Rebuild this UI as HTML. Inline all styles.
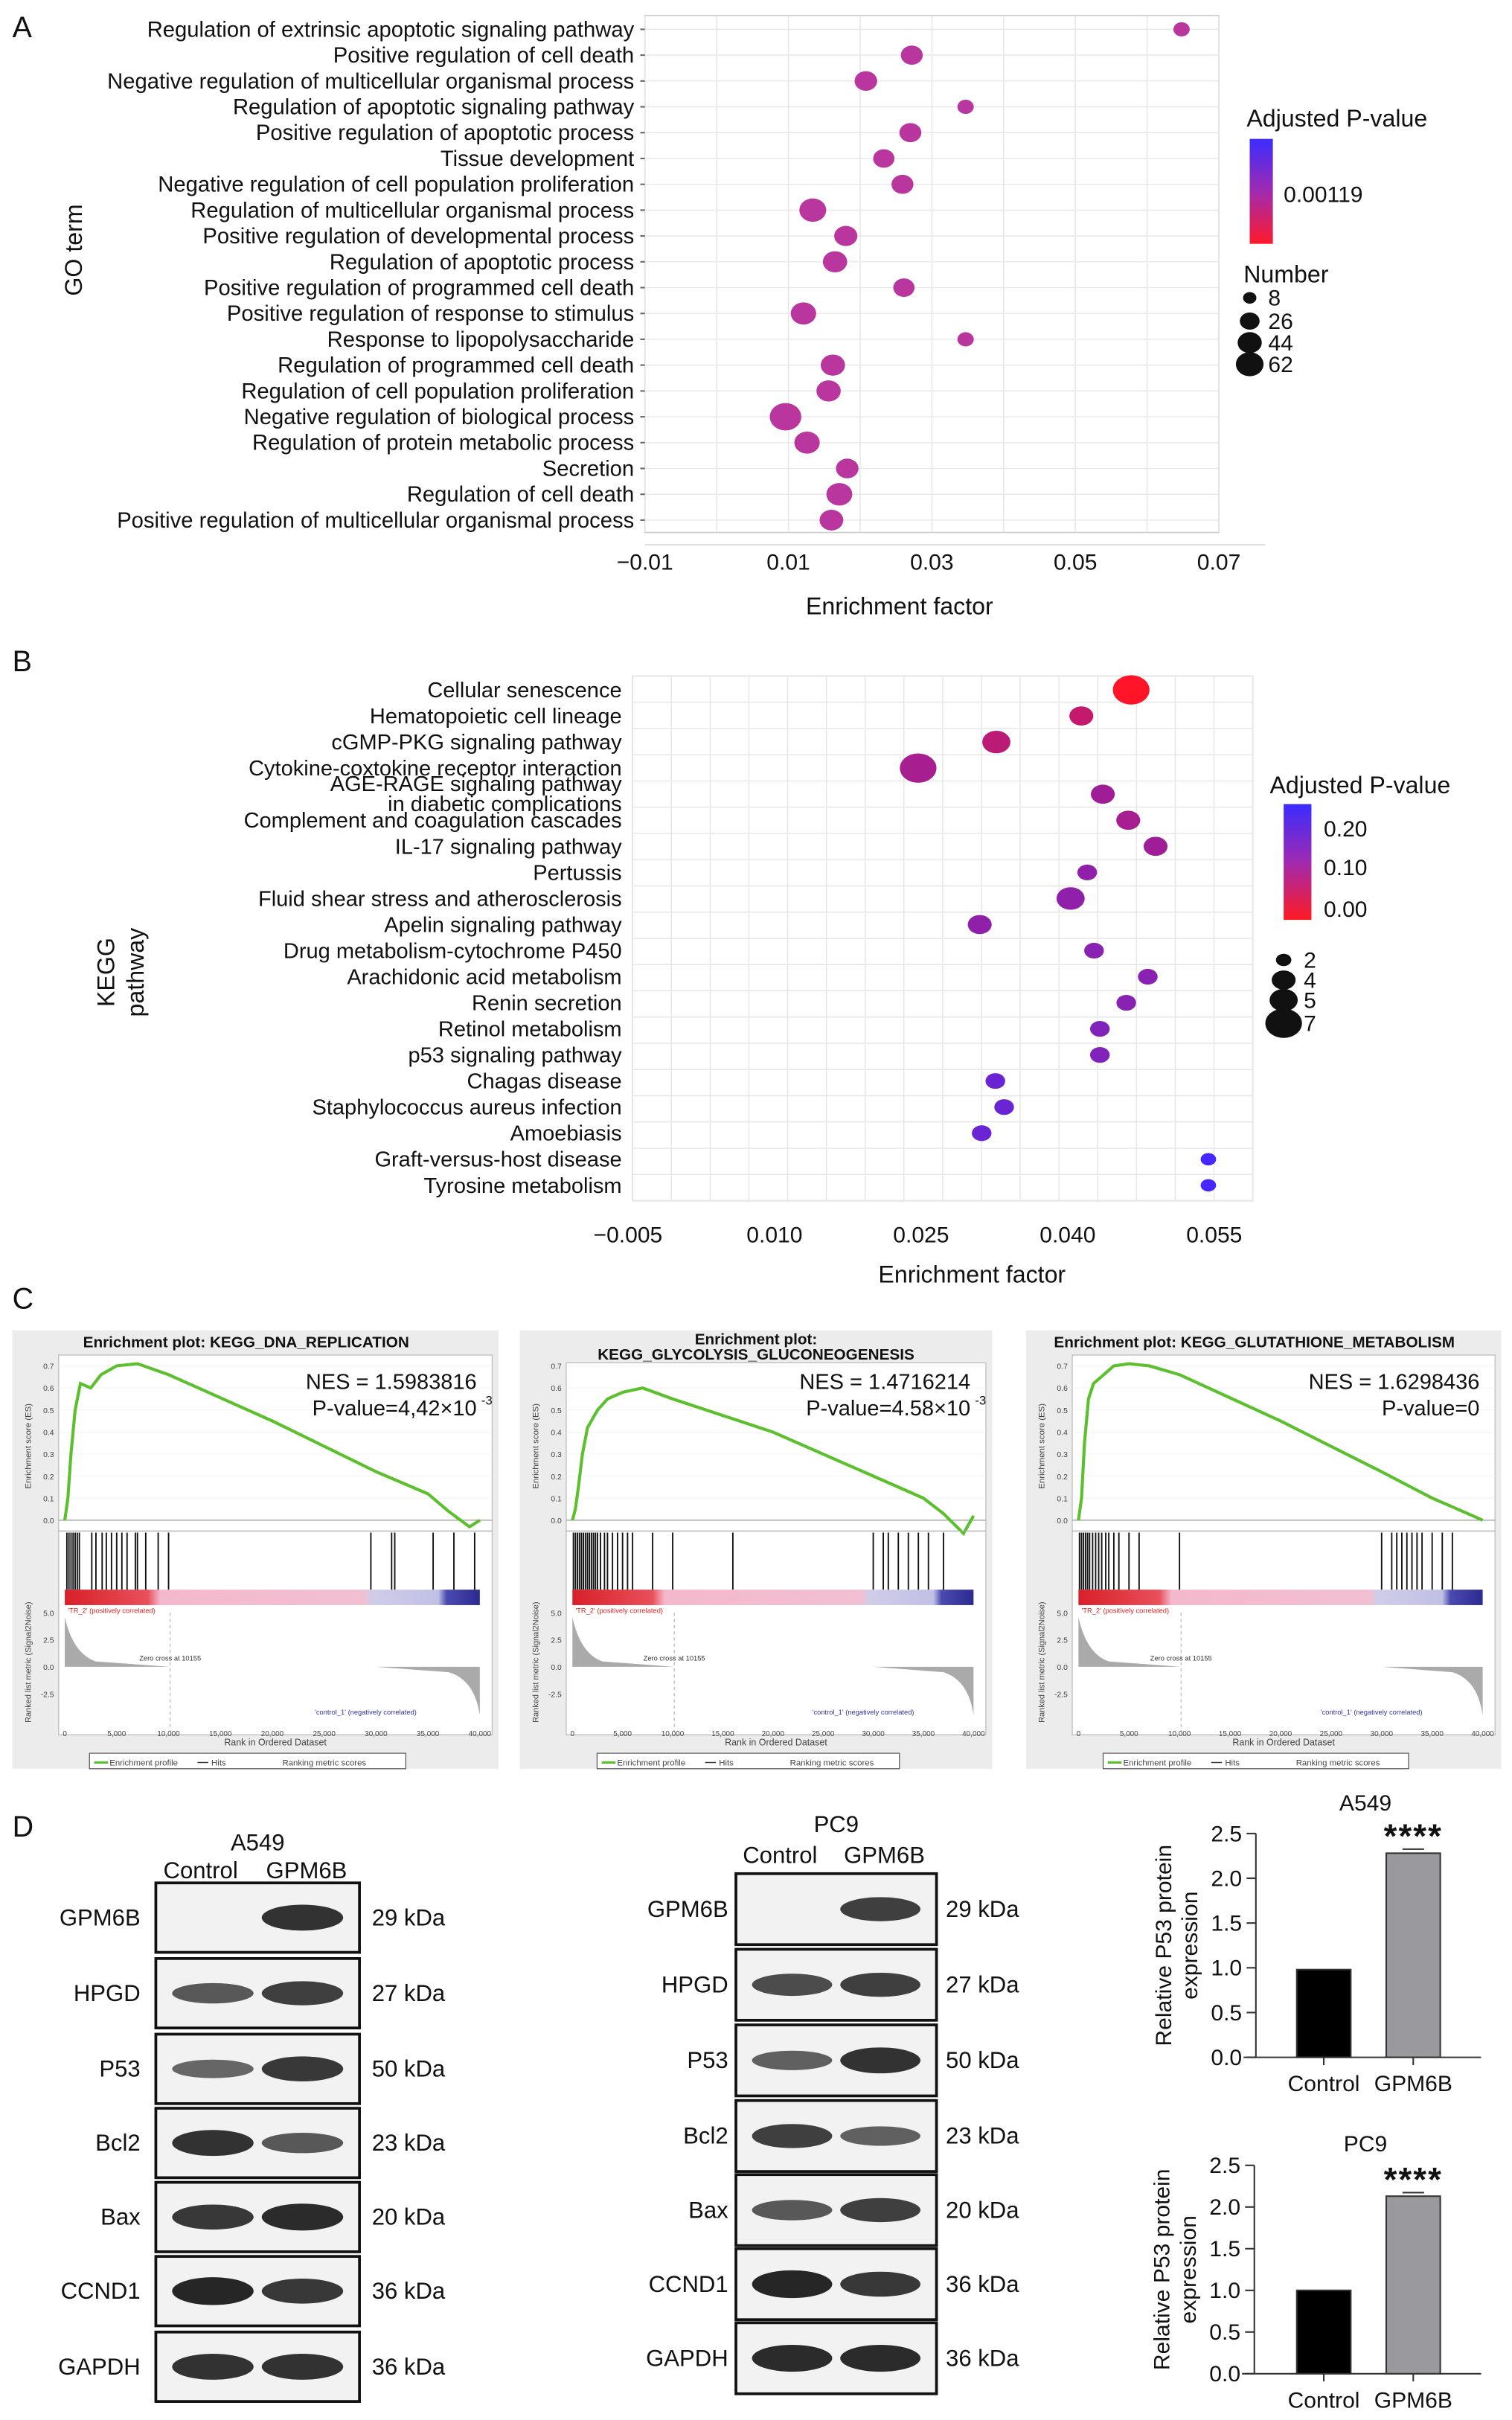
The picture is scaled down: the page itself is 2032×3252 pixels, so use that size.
<!DOCTYPE html>
<html><head><meta charset="utf-8"><style>
html,body{margin:0;padding:0;background:#fff;}
svg{display:block;font-family:"Liberation Sans",Arial,sans-serif;}
</style></head><body>
<svg id="fig" width="2032" height="3252" viewBox="0 0 980 1568" preserveAspectRatio="none" xmlns="http://www.w3.org/2000/svg">
<defs>
<linearGradient id="gA" x1="0" y1="0" x2="0" y2="1"><stop offset="0" stop-color="#3b2cff"/><stop offset="0.5" stop-color="#a02ab0"/><stop offset="1" stop-color="#ff1a2a"/></linearGradient>
<linearGradient id="heat" x1="0" y1="0" x2="1" y2="0"><stop offset="0" stop-color="#d8202a"/><stop offset="0.2" stop-color="#e8505a"/><stop offset="0.23" stop-color="#f4b8cc"/><stop offset="0.72" stop-color="#f2bfd2"/><stop offset="0.74" stop-color="#cfcde8"/><stop offset="0.9" stop-color="#c0c0e6"/><stop offset="0.92" stop-color="#4a4ab0"/><stop offset="1" stop-color="#2a2a90"/></linearGradient>
</defs>
<g id="root"></g>
</svg>
<script>
// ---------- Panel A data ----------
const goTerms=["Regulation of extrinsic apoptotic signaling pathway","Positive regulation of cell death","Negative regulation of multicellular organismal process","Regulation of apoptotic signaling pathway","Positive regulation of apoptotic process","Tissue development","Negative regulation of cell population proliferation","Regulation of multicellular organismal process","Positive regulation of developmental process","Regulation of apoptotic process","Positive regulation of programmed cell death","Positive regulation of response to stimulus","Response to lipopolysaccharide","Regulation of programmed cell death","Regulation of cell population proliferation","Negative regulation of biological process","Regulation of protein metabolic process","Secretion","Regulation of cell death","Positive regulation of multicellular organismal process"];
const goFactor=[0.0648,0.0272,0.0208,0.0347,0.027,0.0233,0.0259,0.0134,0.018,0.0165,0.0261,0.0121,0.0347,0.0162,0.0156,0.0096,0.0126,0.0182,0.0171,0.016];
const goNumber=[8,22,24,8,22,20,22,40,26,30,20,34,8,30,30,62,34,24,36,28];
const goTicks=[-0.01,0.01,0.03,0.05,0.07];
const goTickLabels=["\u22120.01","0.01","0.03","0.05","0.07"];
// ---------- Panel B data ----------
const keggTerms=["Cellular senescence","Hematopoietic cell lineage","cGMP-PKG signaling pathway","Cytokine-coxtokine receptor interaction","AGE-RAGE signaling pathway|in diabetic complications","Complement and coagulation cascades","IL-17 signaling pathway","Pertussis","Fluid shear stress and atherosclerosis","Apelin signaling pathway","Drug metabolism-cytochrome P450","Arachidonic acid metabolism","Renin secretion","Retinol metabolism","p53 signaling pathway","Chagas disease","Staphylococcus aureus infection","Amoebiasis","Graft-versus-host disease","Tyrosine metabolism"];
const keggFactor=[0.0465,0.0414,0.0327,0.0247,0.0436,0.0462,0.049,0.042,0.0403,0.031,0.0427,0.0482,0.046,0.0433,0.0433,0.0326,0.0335,0.0312,0.0544,0.0544];
const keggCount=[7,4,5,7,4,4,4,3,5,4,3,3,3,3,3,3,3,3,2,2];
const keggP=[0.0,0.08,0.09,0.12,0.13,0.12,0.13,0.15,0.15,0.15,0.16,0.16,0.16,0.17,0.17,0.2,0.2,0.2,0.25,0.25];
const keggTicks=[-0.005,0.010,0.025,0.040,0.055];
const keggTickLabels=["\u22120.005","0.010","0.025","0.040","0.055"];
// ---------- Panel C data ----------
const gseaTitles=[["Enrichment plot: KEGG_DNA_REPLICATION"],["Enrichment plot:","KEGG_GLYCOLYSIS_GLUCONEOGENESIS"],["Enrichment plot: KEGG_GLUTATHIONE_METABOLISM"]];
const gseaNES=["NES = 1.5983816","NES = 1.4716214","NES = 1.6298436"];
const gseaP=["P-value=4,42\u00d710","P-value=4.58\u00d710","P-value=0"];
const esRanks=[0,300,600,1000,1500,2500,3500,5000,7000,10000,20000,30000,35000,37000,39000,40000];
const es1=[0,0.1,0.3,0.5,0.62,0.6,0.66,0.7,0.71,0.66,0.45,0.22,0.12,0.04,-0.03,0.0];
const es2=[0,0.05,0.15,0.3,0.42,0.5,0.55,0.58,0.6,0.55,0.4,0.2,0.1,0.03,-0.06,0.02];
const es3=[0,0.1,0.35,0.55,0.62,0.66,0.7,0.71,0.7,0.66,0.45,0.22,0.1,0.06,0.02,0.0];
const hits1=[200,400,600,800,1000,1200,1400,2600,3000,3600,4000,4500,5000,5500,6000,6800,7000,7800,9000,10000,29500,31500,31800,35500,37500,39500];
const hits2=[100,300,500,700,900,1100,1300,1500,1700,1900,2100,2300,2500,2800,3200,3500,4000,4500,5000,5500,6000,8000,10000,16000,30000,31000,31500,32500,33500,34500,35500,37000];
const hits3=[100,300,500,700,900,1100,1400,1700,2000,2300,2700,3000,3500,4000,5000,6000,10000,30000,31000,31500,32000,32500,33000,33500,34000,35000,36000,37000];
const rankTicks=[0,5000,10000,15000,20000,25000,30000,35000,40000];
// ---------- Panel D data ----------
const blotProteins=["GPM6B","HPGD","P53","Bcl2","Bax","CCND1","GAPDH"];
const blotKDa=["29 kDa","27 kDa","50 kDa","23 kDa","20 kDa","36 kDa","36 kDa"];
const a549Ctrl=[0,0.6,0.5,0.9,0.85,1,0.9];
const a549Gpm=[0.9,0.8,0.85,0.6,0.95,0.85,0.9];
const pc9Ctrl=[0,0.7,0.55,0.8,0.6,1,0.95];
const pc9Gpm=[0.8,0.8,0.9,0.55,0.8,0.85,0.95];
const barGroups=["Control","GPM6B"];
const a549Vals=[0.98,2.28];
const pc9Vals=[1.0,2.13];
const barTicks=[0,0.5,1.0,1.5,2.0,2.5];

const NS="http://www.w3.org/2000/svg";
const root=document.getElementById('root');
function mk(tag,attrs,parent,text){const e=document.createElementNS(NS,tag);for(const k in attrs)e.setAttribute(k,attrs[k]);if(text!==undefined)e.textContent=text;(parent||root).appendChild(e);return e;}
function txt(x,y,s,size,anchor,parent,extra){const a={x:x,y:y,'font-size':size,'text-anchor':anchor||'start',fill:'#111'};if(extra)for(const k in extra)a[k]=extra[k];return mk('text',a,parent,s);}

// ---------- Panel letters ----------
[["A",8,24],["B",8,435],["C",8,848],["D",8,1190]].forEach(p=>{const t=txt(p[1],p[2],p[0],19,'start');});

// ---------- Panel A ----------
(function(){
const g=mk('g',{});
const L=418,R=790,T=10,B=345;
const xs=v=>L+(v+0.01)/0.08*(R-L);
const ys=i=>19+i*(337-19)/(goTerms.length-1);
mk('rect',{x:L,y:T,width:R-L,height:B-T,fill:'#fff',stroke:'#ccc','stroke-width':0.8},g);
for(let v=-0.01;v<=0.0701;v+=0.01){mk('line',{x1:xs(v),x2:xs(v),y1:T,y2:B,stroke:'#e4e4e4','stroke-width':0.7},g);}
goTerms.forEach((t,i)=>{mk('line',{x1:L,x2:R,y1:ys(i),y2:ys(i),stroke:'#e8e8e8','stroke-width':0.7},g);
 const l=txt(L-7,ys(i)+4.8,t,14.1,'end',g);
 mk('line',{x1:L-3,x2:L,y1:ys(i),y2:ys(i),stroke:'#666'},g);});
mk('line',{x1:L,x2:R+30,y1:B+8,y2:B+8,stroke:'#ddd'},g);
goFactor.forEach((v,i)=>{const r=2.2+Math.sqrt(goNumber[i])*0.85;const e=mk('ellipse',{cx:xs(v),cy:ys(i),rx:r*1.15,ry:r,fill:'#b8369e'},g);});
goTicks.forEach((v,i)=>{txt(xs(v),B+24,goTickLabels[i],14.5,'middle',g);});
const xl=txt(583,398,'Enrichment factor',15.5,'middle',g);
const yl=txt(0,0,'GO term',15.5,'middle',g,{transform:'translate(53,162) rotate(-90)'});
txt(808,82,'Adjusted P-value',15.5,'start',g);
mk('rect',{x:810,y:90,width:15,height:68,fill:'url(#gA)'},g);
txt(832,131,'0.00119',14.5,'start',g);
txt(806,183,'Number',15.5,'start',g);
[[8,193],[26,208],[44,222],[62,236]].forEach(d=>{const r=1.5+Math.sqrt(d[0])*0.8;mk('ellipse',{cx:810,cy:d[1],rx:r*1.15,ry:r,fill:'#111'},g);txt(822,d[1]+5,String(d[0]),14.5,'start',g);});
})();

// ---------- Panel B ----------
(function(){
const g=mk('g',{});
const L=410,R=812,T=438,B=778;
const xs=v=>407+(v+0.005)/0.015*95;
const ys=i=>447+i*(768-447)/(keggTerms.length-1);
mk('rect',{x:L,y:T,width:R-L,height:B-T,fill:'#fff',stroke:'#ccc','stroke-width':0.8},g);
for(let k=0;k<=16;k++){const x=L+k*(R-L)/16;mk('line',{x1:x,x2:x,y1:T,y2:B,stroke:'#e6e6e6','stroke-width':0.7},g);}
for(let k=0;k<=20;k++){const y=T+k*(B-T)/20;mk('line',{x1:L,x2:R,y1:y,y2:y,stroke:'#e6e6e6','stroke-width':0.7},g);}
keggTerms.forEach((t,i)=>{const parts=t.split('|');
 if(parts.length==2){txt(L-7,ys(i)-2,parts[0],14,'end',g);txt(L-7,ys(i)+11,parts[1],14,'end',g);}
 else{const l=txt(L-7,ys(i)+4.8,t,14,'end',g);}});
function pcol(p){const f=Math.min(1,p/0.25);const r=Math.round(255*(1-f)+70*f),gg=Math.round(20*(1-f)+40*f),b=Math.round(40*(1-f)+255*f);return 'rgb('+r+','+gg+','+b+')';}
keggFactor.forEach((v,i)=>{const r=1.8+keggCount[i]*1.1;const e=mk('ellipse',{cx:xs(v),cy:ys(i),rx:r*1.25,ry:r,fill:pcol(keggP[i])},g);});
keggTicks.forEach((v,i)=>txt(xs(v),B+27,keggTickLabels[i],14.5,'middle',g));
const xl=txt(630,831,'Enrichment factor',15.5,'middle',g);
txt(0,0,'KEGG',15.5,'middle',g,{transform:'translate(74,630) rotate(-90)'});
txt(0,0,'pathway',15.5,'middle',g,{transform:'translate(93,630) rotate(-90)'});
txt(823,514,'Adjusted P-value',15.5,'start',g);
const gb=mk('linearGradient',{id:'gB',x1:0,y1:0,x2:0,y2:1},document.querySelector('defs'));
mk('stop',{offset:0,'stop-color':'#3a2cff'},gb);mk('stop',{offset:0.5,'stop-color':'#a02ab0'},gb);mk('stop',{offset:1,'stop-color':'#ff1a22'},gb);
mk('rect',{x:832,y:521,width:18,height:75,fill:'url(#gB)'},g);
[["0.20",542],["0.10",567],["0.00",594]].forEach(d=>txt(858,d[1],d[0],14.5,'start',g));
[[2,622],[4,635],[5,648],[7,663]].forEach(d=>{const r=1.8+d[0]*1.1;mk('ellipse',{cx:832,cy:d[1],rx:r*1.25,ry:r,fill:'#111'},g);txt(845,d[1]+5,String(d[0]),14.5,'start',g);});
})();

// ---------- Panel C ----------
const esSets=[es1,es2,es3],hitSets=[hits1,hits2,hits3];
[[8,862,315],[337,862,306],[665,862,308]].forEach((p,k)=>{
 const g=mk('g',{});
 const px=p[0],py=p[1],w=p[2];
 mk('rect',{x:px,y:py,width:w,height:284,fill:'#ececec'},g);
 const L=px+30,R=px+w-4,rx=v=>L+4+v/40000*(R-L-12);
 const tl=gseaTitles[k];
 if(tl.length==1) txt(px+w/2-6,py+11,tl[0],10,'middle',g,{'font-weight':'bold'});
 else{txt(px+w/2,py+9,tl[0],10,'middle',g,{'font-weight':'bold'});txt(px+w/2,py+19,tl[1],10,'middle',g,{'font-weight':'bold'});}
 const top=k==1?py+21:py+16;
 mk('rect',{x:L,y:top,width:R-L,height:262-(top-py),fill:'#fff',stroke:'#bbb','stroke-width':0.6},g);
 const ey=v=>py+123-v/0.7*100;
 for(let t=0;t<=0.7001;t+=0.1){txt(L-3,ey(t)+2,t.toFixed(1),5,'end',g,{fill:'#444'});mk('line',{x1:L,x2:R,y1:ey(t),y2:ey(t),stroke:'#f0f0f0','stroke-width':0.4},g);}
 mk('line',{x1:L,x2:R,y1:ey(0),y2:ey(0),stroke:'#999','stroke-width':0.6},g);
 txt(0,0,'Enrichment score (ES)',5.5,'middle',g,{transform:'translate('+(px+12)+','+(py+75)+') rotate(-90)',fill:'#444'});
 const es=esSets[k];let d='';es.forEach((v,i)=>{d+=(i?'L':'M')+rx(esRanks[i]).toFixed(1)+','+ey(v).toFixed(1);});
 const c=mk('path',{d:d,fill:'none',stroke:'#5cc02e','stroke-width':2},g);
 txt(R-10,py+38,gseaNES[k],14,'end',g);
 txt(R-10,py+55,gseaP[k],14,'end',g);
 if(k<2) txt(R-7,py+48,'-3',8,'start',g);
 mk('line',{x1:L,x2:R,y1:py+130,y2:py+130,stroke:'#aaa','stroke-width':0.6},g);
 hitSets[k].forEach(h=>{const l=mk('line',{x1:rx(h),x2:rx(h),y1:py+131,y2:py+168,stroke:'#111','stroke-width':0.9},g);});
 mk('rect',{x:rx(0),y:py+168,width:rx(40000)-rx(0),height:10,fill:'url(#heat)'},g);
 txt(L+6,py+183,"'TR_2' (positively correlated)",4.5,'start',g,{fill:'#d22'});
 const my=v=>py+218-v*7;
 [5,2.5,0,-2.5].forEach(v=>txt(L-3,my(v)+2,v.toFixed(1),5,'end',g,{fill:'#444'}));
 mk('path',{d:'M'+rx(0)+','+my(0)+' L'+rx(0)+','+my(4.6)+' Q'+rx(800)+','+my(1.2)+' '+rx(3000)+','+my(0.5)+' L'+rx(10155)+','+my(0)+' Z',fill:'#aaa'},g);
 mk('path',{d:'M'+rx(30000)+','+my(0)+' L'+rx(37000)+','+my(-0.5)+' Q'+rx(39500)+','+my(-1.2)+' '+rx(40000)+','+my(-4.5)+' L'+rx(40000)+','+my(0)+' Z',fill:'#aaa'},g);
 mk('line',{x1:rx(10155),x2:rx(10155),y1:my(5),y2:py+260,stroke:'#aaa','stroke-width':0.5,'stroke-dasharray':'2,2'},g);
 txt(rx(10155),my(0)-4,'Zero cross at 10155',4.5,'middle',g,{fill:'#333'});
 txt(rx(29000),py+249,"'control_1' (negatively correlated)",4.5,'middle',g,{fill:'#33a'});
 txt(0,0,'Ranked list metric (Signal2Noise)',5.3,'middle',g,{transform:'translate('+(px+12)+','+(py+215)+') rotate(-90)',fill:'#444'});
 rankTicks.forEach(v=>txt(rx(v),py+263,v.toLocaleString('en-US'),4.8,'middle',g,{fill:'#444'}));
 txt((L+R)/2,py+269,'Rank in Ordered Dataset',6,'middle',g,{fill:'#444'});
 mk('rect',{x:px+50,y:py+274,width:w-110,height:10,fill:'#fff',stroke:'#555','stroke-width':0.6},g);
 mk('line',{x1:px+53,x2:px+62,y1:py+280,y2:py+280,stroke:'#5cc02e','stroke-width':1.5},g);
 txt(px+63,py+282,'Enrichment profile',5.5,'start',g,{fill:'#444'});
 mk('line',{x1:px+120,x2:px+127,y1:py+280,y2:py+280,stroke:'#333','stroke-width':0.7},g);
 txt(px+129,py+282,'Hits',5.5,'start',g,{fill:'#444'});
 txt(px+175,py+282,'Ranking metric scores',5.5,'start',g,{fill:'#444'});
});

// ---------- Panel D blots ----------
function blot(name,bx,bw,labX,kX,rowTops,rowH,ctrl,gpm,title,titleY,hdrY){
 const g=mk('g',{});
 txt(bx+bw/2,titleY,title,15,'middle',g);
 txt(bx+bw*0.22,hdrY,'Control',15,'middle',g);txt(bx+bw*0.74,hdrY,'GPM6B',15,'middle',g);
 blotProteins.forEach((pn,i)=>{const y=rowTops[i];
  mk('rect',{x:bx,y:y,width:bw,height:rowH,fill:'#f2f2f2',stroke:'#111','stroke-width':1.8},g);
  txt(labX,y+rowH/2+5,pn,15,'end',g);txt(kX,y+rowH/2+5,blotKDa[i],15,'start',g);
  [[ctrl[i],0.28],[gpm[i],0.72]].forEach(b=>{if(b[0]>0){const e=mk('ellipse',{cx:bx+bw*b[1],cy:y+rowH/2,rx:bw*0.2,ry:3+b[0]*6,fill:'#1a1a1a','fill-opacity':0.35+b[0]*0.6},g);}});
 });
}
blot('a549-western-blot',101,132,91,241,[1220,1269,1318,1366,1414,1462,1511],45,a549Ctrl,a549Gpm,'A549',1199,1217);
blot('pc9-western-blot',477,130,472,613,[1214,1263,1312,1361,1409,1457,1505],46,pc9Ctrl,pc9Gpm,'PC9',1187,1207);

// ---------- Panel D bar charts ----------
function bars(name,vals,axX,yTop,yBot,title,titleY){
 const g=mk('g',{});
 const ys=v=>yBot-v/2.5*(yBot-yTop);
 const xc=[858,916],bw=35;
 txt(885,titleY,title,14.5,'middle',g);
 mk('line',{x1:axX,x2:axX,y1:yTop,y2:yBot,stroke:'#333','stroke-width':1},g);
 mk('line',{x1:axX-8,x2:960,y1:yBot,y2:yBot,stroke:'#333','stroke-width':1},g);
 barTicks.forEach(t=>{mk('line',{x1:axX-6,x2:axX,y1:ys(t),y2:ys(t),stroke:'#333'},g);txt(axX-9,ys(t)+5,t.toFixed(1),14.5,'end',g);});
 vals.forEach((v,i)=>{const r=mk('rect',{x:xc[i]-bw/2,y:ys(v),width:bw,height:yBot-ys(v),fill:i?'#9a9a9e':'#000',stroke:'#333','stroke-width':1},g);
  mk('line',{x1:xc[i],x2:xc[i],y1:yBot,y2:yBot+5,stroke:'#333'},g);
  txt(xc[i],yBot+22,barGroups[i],14.5,'middle',g);
  if(i==1){mk('line',{x1:xc[i]-7,x2:xc[i]+7,y1:ys(v*1.02),y2:ys(v*1.02),stroke:'#333'},g);txt(xc[i],ys(v*1.02)-1,'****',22,'middle',g,{'font-weight':'bold','letter-spacing':'1'});}
 });
 txt(0,0,'Relative P53 protein',14.5,'middle',g,{transform:'translate('+(axX-55)+','+((yTop+yBot)/2)+') rotate(-90)'});
 txt(0,0,'expression',14.5,'middle',g,{transform:'translate('+(axX-38)+','+((yTop+yBot)/2)+') rotate(-90)'});
}
bars('a549-bar-chart',a549Vals,814,1188,1333,'A549',1173);
bars('pc9-bar-chart',pc9Vals,813,1403,1538,'PC9',1394);
</script>
</body></html>
